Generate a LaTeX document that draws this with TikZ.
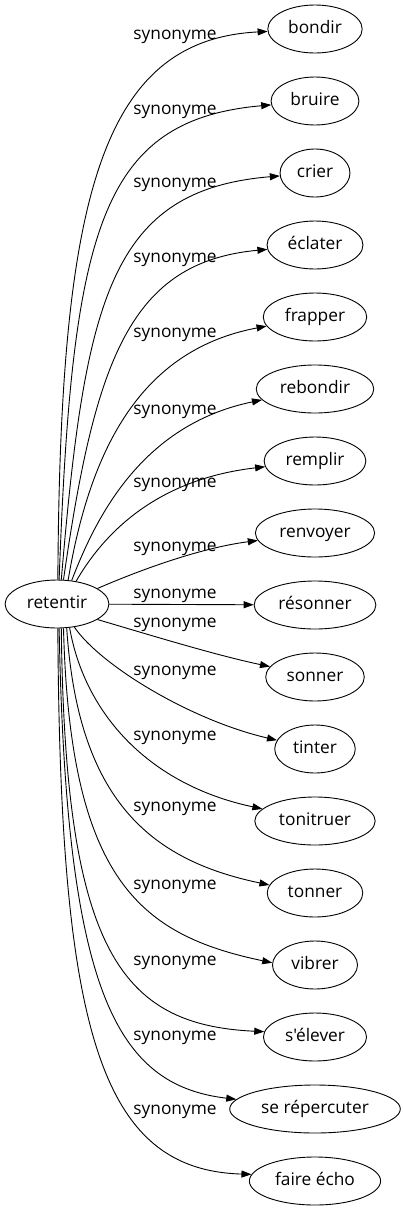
\documentclass[tikz,border=0pt]{standalone}
\usepackage{fontspec}
\setmainfont{Open Sans}[Ligatures=TeXOff]
\usetikzlibrary{shapes.geometric,arrows.meta}
\tikzset{
  wordnode/.style={ellipse, draw, line width=0.9pt, inner xsep=6.5pt, inner ysep=3pt,
    minimum height=48pt, text height=12pt, text depth=4pt,
    font=\fontsize{17.3}{20}\selectfont},
  rootnode/.style={wordnode},
  lbl/.style={anchor=base, inner sep=0pt, font=\fontsize{17.3}{20}\selectfont},
  conn/.style={line width=0.9pt, -{Triangle[length=10pt,width=7pt]}}
}
\begin{document}
\begin{tikzpicture}[x=1pt,y=-1pt]
\useasboundingbox (0,0) rectangle (403,1211);
\node[rootnode] (r) at (57,604) {retentir};
\node[wordnode] (t0) at (315,29) {bondir};
\node[wordnode] (t1) at (315,101) {bruire};
\node[wordnode] (t2) at (315,173) {crier};
\node[wordnode] (t3) at (315,245) {éclater};
\node[wordnode] (t4) at (315,317) {frapper};
\node[wordnode] (t5) at (315,389) {rebondir};
\node[wordnode] (t6) at (315,461) {remplir};
\node[wordnode] (t7) at (315,533) {renvoyer};
\node[wordnode] (t8) at (315,605) {résonner};
\node[wordnode] (t9) at (315,677) {sonner};
\node[wordnode] (t10) at (315,749) {tinter};
\node[wordnode] (t11) at (315,821) {tonitruer};
\node[wordnode] (t12) at (315,893) {tonner};
\node[wordnode] (t13) at (315,965) {vibrer};
\node[wordnode] (t14) at (315,1037) {s'élever};
\node[wordnode] (t15) at (315,1109) {se répercuter};
\node[wordnode] (t16) at (315,1181) {faire écho};

\draw[conn] (r.88) .. controls (60,200) and (100,40) .. (t0);
\draw[conn] (r.85) .. controls (72,230) and (100,120) .. (t1);
\draw[conn] (r.80) .. controls (85,300) and (110,190) .. (t2);
\draw[conn] (r.75) .. controls (95,360) and (130,262) .. (t3);
\draw[conn] (r.65) .. controls (90,450) and (140,350) .. (t4);
\draw[conn] (r.58) .. controls (95,520) and (140,425) .. (t5);
\draw[conn] (r.50) .. controls (100,540) and (150,480) .. (t6);
\draw[conn] (r.21) .. controls (140,570) and (200,548) .. (t7);
\draw[conn] (r) -- (t8);
\draw[conn] (r.-21) .. controls (150,635) and (215,655) .. (t9.167);
\draw[conn] (r.-53) .. controls (100,665) and (190,720) .. (t10.167);
\draw[conn] (r.-62) .. controls (85,715) and (150,785) .. (t11.167);
\draw[conn] (r.-68) .. controls (78,800) and (150,860) .. (t12.170);
\draw[conn] (r.-75) .. controls (70,880) and (140,935) .. (t13.177);
\draw[conn] (r.-80) .. controls (65,950) and (120,1025) .. (t14.174);
\draw[conn] (r.-85) .. controls (66,990) and (115,1085) .. (t15.173);
\draw[conn] (r.-88) .. controls (60,1030) and (100,1170) .. (t16.174);

\node[lbl] (l0) at (175,39.5) {synonyme};
\node[lbl] (l1) at (175,114.5) {synonyme};
\node[lbl] (l2) at (175,187.5) {synonyme};
\node[lbl] (l3) at (175,262.5) {synonyme};
\node[lbl] (l4) at (175,337.5) {synonyme};
\node[lbl] (l5) at (175,414.5) {synonyme};
\node[lbl] (l6) at (175,487.5) {synonyme};
\node[lbl] (l7) at (175,551.5) {synonyme};
\node[lbl] (l8) at (175,598.5) {synonyme};
\node[lbl] (l9) at (175,627.5) {synonyme};
\node[lbl] (l10) at (175,675.5) {synonyme};
\node[lbl] (l11) at (175,740.5) {synonyme};
\node[lbl] (l12) at (175,811.5) {synonyme};
\node[lbl] (l13) at (175,889.5) {synonyme};
\node[lbl] (l14) at (175,965.5) {synonyme};
\node[lbl] (l15) at (175,1040.5) {synonyme};
\node[lbl] (l16) at (175,1114.5) {synonyme};
\end{tikzpicture}
\end{document}
